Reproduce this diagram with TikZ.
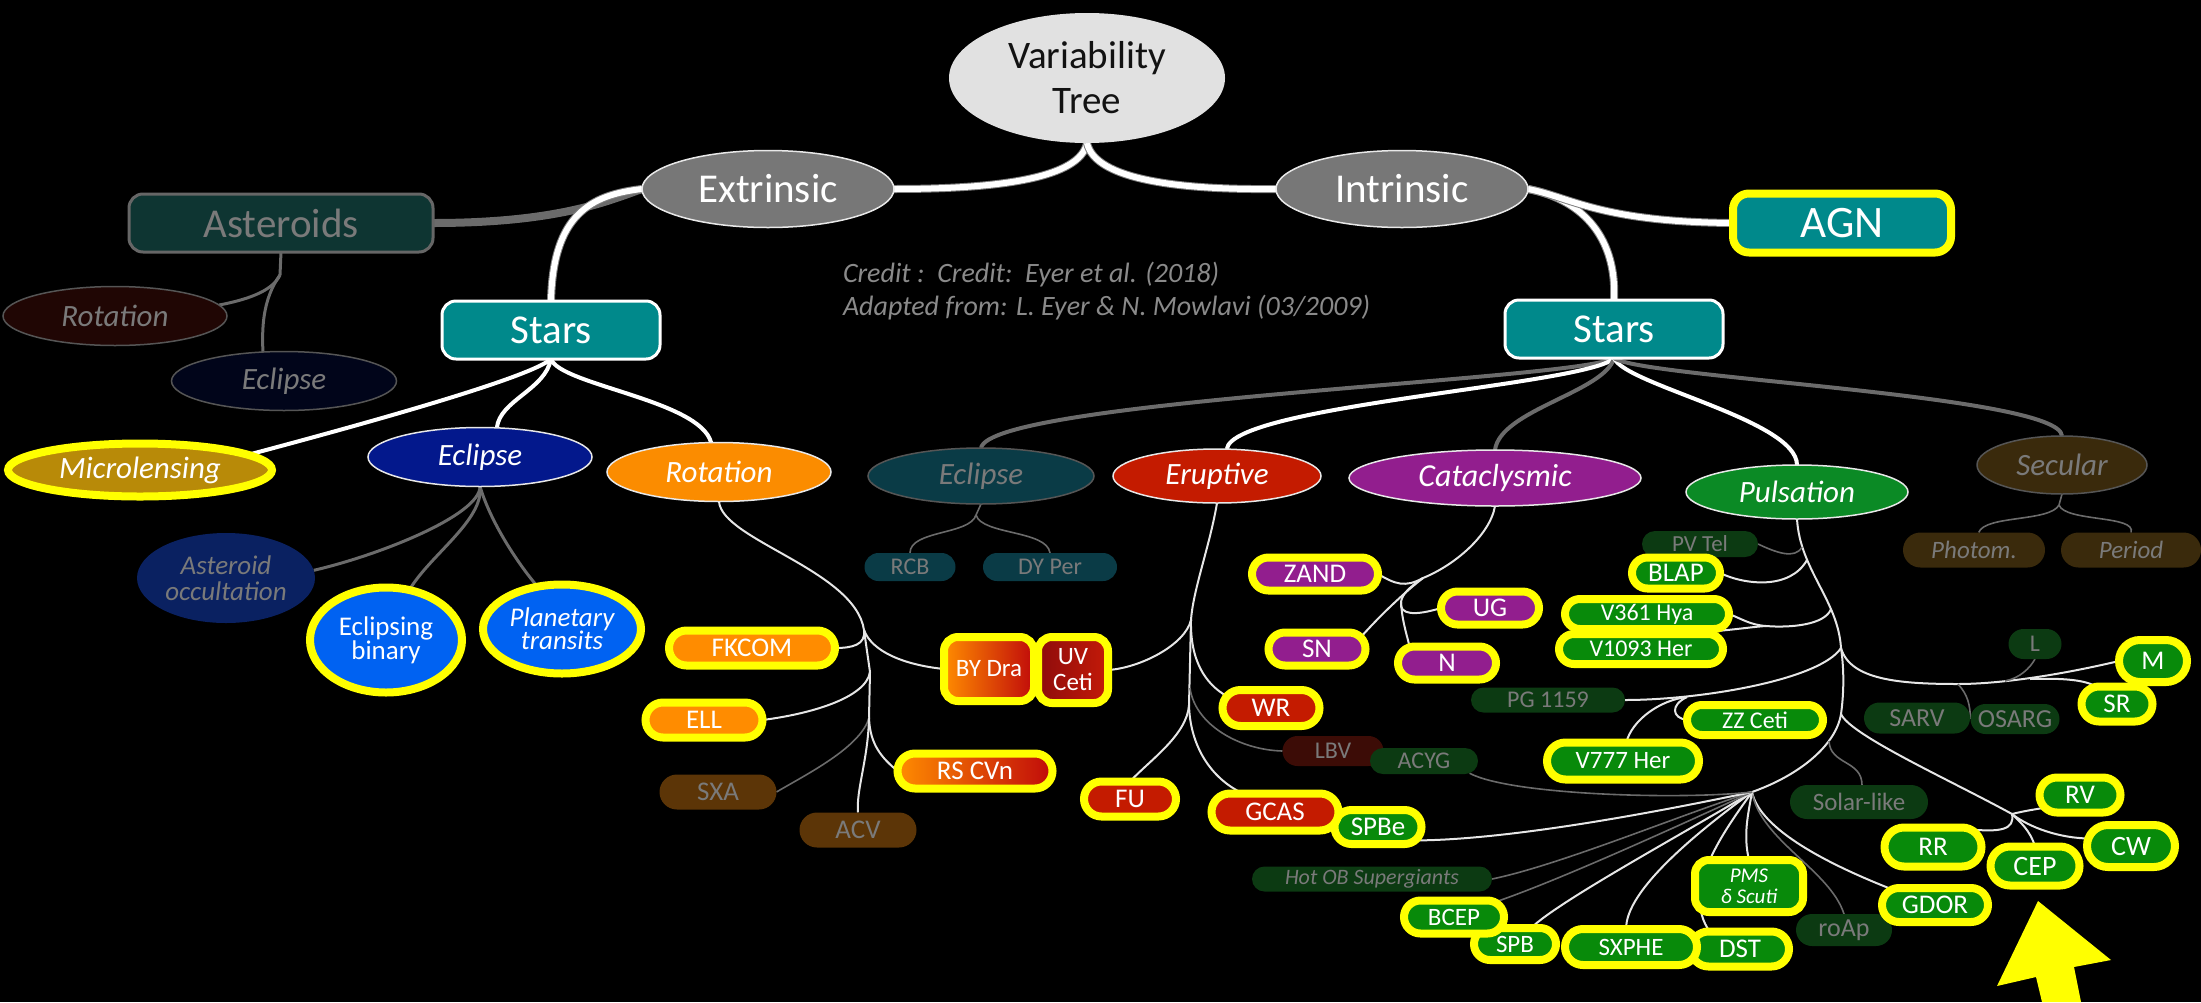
\documentclass[tikz,border=0pt]{standalone}
\usepackage{fontspec}
\setmainfont{Carlito}
\usetikzlibrary{shapes.geometric,shapes.misc}
\pgfdeclarelayer{back}
\pgfdeclarelayer{edges}
\pgfsetlayers{back,edges,main}
\definecolor{rootc}{HTML}{E1E1E1}
\definecolor{extc}{HTML}{777777}
\definecolor{edgew}{HTML}{E8E8E8}
\definecolor{astc}{HTML}{0E3532}
\definecolor{astbd}{HTML}{666666}
\definecolor{bdg}{HTML}{555555}
\definecolor{dimt}{HTML}{7A7A7A}
\definecolor{rotac}{HTML}{200604}
\definecolor{eclac}{HTML}{01051A}
\definecolor{tealc}{HTML}{00898B}
\definecolor{yel}{HTML}{FFFF00}
\definecolor{microc}{HTML}{B88A08}
\definecolor{eclbc}{HTML}{03188C}
\definecolor{rotc}{HTML}{FB8C00}
\definecolor{eclic}{HTML}{0A3B46}
\definecolor{eruc}{HTML}{C41B00}
\definecolor{catc}{HTML}{921E8E}
\definecolor{pulc}{HTML}{0B8A25}
\definecolor{secc}{HTML}{3A2A0C}
\definecolor{occc}{HTML}{0A2161}
\definecolor{ebinc}{HTML}{0062F2}
\definecolor{orc}{HTML}{FF8C00}
\definecolor{rsred}{HTML}{C00A0A}
\definecolor{uvl}{HTML}{8E0C0C}
\definecolor{uvr}{HTML}{C41A08}
\definecolor{brownc}{HTML}{5C3507}
\definecolor{redc}{HTML}{C41B00}
\definecolor{dimred}{HTML}{3C0C06}
\definecolor{dimgreen}{HTML}{0C3A12}
\definecolor{greenc}{HTML}{088A0A}
\definecolor{purc}{HTML}{921E8E}
\definecolor{lineg}{HTML}{6B6B6B}
\definecolor{linew}{HTML}{E6E6E6}
\definecolor{credc}{HTML}{8A8A8A}
\tikzset{
  nb/.style={inner sep=0pt, outer sep=0pt, align=center},
  ell/.style={nb, ellipse},
  pill/.style={nb, rounded rectangle},
  rbox/.style={nb, rectangle, rounded corners=14pt},
  hl/.style={draw=yel, line width=8pt},
  wbd/.style={draw=edgew, line width=1.5pt},
  gbd/.style={draw=bdg, line width=1.5pt},
  fs/.style 2 args={font=\fontsize{#1}{#2}\selectfont},
  fsi/.style 2 args={font=\fontsize{#1}{#2}\selectfont\itshape},
  lab/.style={text=white, fs={27}{29}},
  labm/.style={text=white, fs={24}{26}},
  dlab/.style={text=dimt, fs={24}{26}},
  lnbig/.style={draw=white, line width=6pt, preaction={draw=gray, line width=8pt}},
  lnbigg/.style={draw=lineg, line width=8pt},
  lnmid/.style={draw=white, line width=4pt},
  lnmidg/.style={draw=lineg, line width=4pt},
  lng/.style={draw=lineg, line width=3pt},
  lnth/.style={draw=linew, line width=2pt},
  lnthg/.style={draw=lineg, line width=1.6pt},
}
\begin{document}
\begin{tikzpicture}[x=1pt,y=-1pt]
\useasboundingbox (0,0) rectangle (2201,1002);
\begin{pgfonlayer}{back}
\fill[black] (0,0) rectangle (2201,1002);
\end{pgfonlayer}

% ---------- top levels
\node[ell, fill=rootc, minimum width=276pt, minimum height=130pt, text=black!93, fs={39}{45}] (root) at (1087,78) {Variability\\Tree};
\node[ell, fill=extc, wbd, minimum width=252pt, minimum height=77pt, text=white, fs={41}{44}] (ext) at (768,189) {Extrinsic};
\node[ell, fill=extc, wbd, minimum width=252pt, minimum height=77pt, text=white, fs={41}{44}] (int) at (1402,189) {Intrinsic};
\node[rbox, fill=astc, draw=astbd, line width=3pt, minimum width=304pt, minimum height=58pt, text=dimt, fs={41}{44}] (ast) at (281,223) {Asteroids};
\node[rbox, fill=tealc, draw=white, line width=3pt, minimum width=218pt, minimum height=58pt, text=white, fs={41}{44}] (stl) at (551,330) {Stars};
\node[rbox, fill=tealc, draw=white, line width=3pt, minimum width=218pt, minimum height=58pt, text=white, fs={41}{44}] (str) at (1614,329) {Stars};
\node[rbox, fill=tealc, hl, rounded corners=16pt, minimum width=218pt, minimum height=59pt, text=white, fs={45}{48}] (agn) at (1842,223) {AGN};

% ---------- asteroids
\node[ell, fill=rotac, gbd, minimum width=224pt, minimum height=59pt, text=dimt, fsi={31}{32}] (rota) at (115,316) {Rotation};
\node[ell, fill=eclac, gbd, minimum width=225pt, minimum height=59pt, text=dimt, fsi={31}{32}] (ecla) at (284,381) {Eclipse};

% ---------- extrinsic stars
\node[ell, fill=microc, hl, minimum width=264pt, minimum height=53pt, text=white, fsi={31}{32}] (micro) at (140,470) {Microlensing};
\node[ell, fill=eclbc, wbd, minimum width=224pt, minimum height=59pt, text=white, fsi={31}{32}] (eclb) at (480,457) {Eclipse};
\node[ell, fill=rotc, wbd, minimum width=224pt, minimum height=59pt, text=white, fsi={31}{32}] (rot) at (719,472) {Rotation};
\node[ell, fill=occc, minimum width=178pt, minimum height=90pt, text=dimt, fsi={27}{26}] (occ) at (226,578) {Asteroid\\occultation};
\node[ell, fill=ebinc, hl, minimum width=152pt, minimum height=105pt, text=white, fs={27}{23}] (ebin) at (386,640) {Eclipsing\\binary};
\node[ell, fill=ebinc, hl, minimum width=158pt, minimum height=89pt, text=white, fsi={27}{23}] (ptr) at (562,629) {Planetary\\transits};

\node[pill, fill=orc, hl, minimum width=166pt, minimum height=35pt, lab] (fkcom) at (752,648) {FKCOM};
\node[pill, fill=orc, hl, minimum width=117pt, minimum height=35pt, lab] (nell) at (704,720) {ELL};
\node[pill, fill=brownc, minimum width=117pt, minimum height=35pt, dlab, fs={27}{29}] (sxa) at (718,792) {SXA};
\node[pill, fill=brownc, minimum width=117pt, minimum height=35pt, dlab, fs={27}{29}] (acv) at (858,830) {ACV};
\node[pill, left color=orc, right color=rsred, hl, minimum width=155pt, minimum height=35pt, lab] (rscvn) at (975,771) {RS CVn};
\node[rbox, left color=uvl, right color=uvr, hl, minimum width=70pt, minimum height=66pt, text=white, fs={25}{26}] (uvceti) at (1073,670) {UV\\Ceti};
\node[rbox, left color=orc, right color=rsred, hl, minimum width=90pt, minimum height=64pt, text=white, fs={25}{26}] (bydra) at (989,669) {BY Dra};

% ---------- intrinsic stars
\node[ell, fill=eclic, gbd, minimum width=226pt, minimum height=56pt, text=dimt, fsi={31}{32}] (ecli) at (981,476) {Eclipse};
\node[pill, fill=eclic, minimum width=91pt, minimum height=28pt, dlab] (rcb) at (910,567) {RCB};
\node[pill, fill=eclic, minimum width=134pt, minimum height=28pt, dlab] (dyper) at (1050,567) {DY Per};

\node[ell, fill=eruc, wbd, minimum width=208pt, minimum height=54pt, text=white, fsi={31}{32}] (eru) at (1217,476) {Eruptive};
\node[pill, fill=redc, hl, minimum width=97pt, minimum height=36pt, lab] (wr) at (1271,708) {WR};
\node[pill, fill=dimred, minimum width=101pt, minimum height=30pt, dlab] (lbv) at (1333,751) {LBV};
\node[pill, fill=dimgreen, minimum width=108pt, minimum height=26pt, dlab] (acyg) at (1424,761) {ACYG};
\node[pill, fill=redc, hl, minimum width=92pt, minimum height=35pt, lab] (fu) at (1130,799) {FU};
\node[pill, fill=greenc, hl, minimum width=87pt, minimum height=34pt, lab] (spbe) at (1378,827) {SPBe};
\node[pill, fill=redc, hl, minimum width=127pt, minimum height=37pt, lab] (gcas) at (1275,812) {GCAS};

\node[ell, fill=catc, wbd, minimum width=292pt, minimum height=56pt, text=white, fsi={32}{33}] (cat) at (1495,478) {Cataclysmic};
\node[pill, fill=purc, hl, minimum width=126pt, minimum height=33pt, lab] (zand) at (1315,574) {ZAND};
\node[pill, fill=purc, hl, minimum width=97pt, minimum height=33pt, lab] (sn) at (1317,649) {SN};
\node[pill, fill=purc, hl, minimum width=98pt, minimum height=33pt, lab] (ug) at (1490,608) {UG};
\node[pill, fill=purc, hl, minimum width=98pt, minimum height=33pt, lab] (nn) at (1447,663) {N};

\node[ell, fill=pulc, wbd, minimum width=222pt, minimum height=54pt, text=white, fsi={31}{32}] (pul) at (1797,492) {Pulsation};
\node[pill, fill=dimgreen, minimum width=116pt, minimum height=26pt, dlab, fs={23}{25}] (pvtel) at (1700,544) {PV Tel};
\node[pill, fill=greenc, hl, minimum width=88pt, minimum height=31pt, lab] (blap) at (1676,573) {BLAP};
\node[pill, fill=greenc, hl, minimum width=164pt, minimum height=30pt, labm] (v361) at (1647,614) {V361 Hya};
\node[pill, fill=greenc, hl, minimum width=164pt, minimum height=30pt, labm] (v1093) at (1641,649) {V1093 Her};
\node[pill, fill=dimgreen, minimum width=154pt, minimum height=25pt, dlab] (pg) at (1548,700) {PG 1159};
\node[pill, fill=greenc, hl, minimum width=136pt, minimum height=30pt, labm] (zzceti) at (1755,720) {ZZ Ceti};
\node[pill, fill=greenc, hl, minimum width=152pt, minimum height=37pt, labm, fs={25}{27}] (v777) at (1623,761) {V777 Her};
\node[pill, fill=dimgreen, minimum width=53pt, minimum height=30pt, dlab] (ll) at (2035,644) {L};
\node[pill, fill=greenc, hl, minimum width=68pt, minimum height=42pt, lab] (mm) at (2153,661) {M};
\node[pill, fill=greenc, hl, minimum width=71pt, minimum height=35pt, lab] (sr) at (2117,704) {SR};
\node[pill, fill=dimgreen, minimum width=106pt, minimum height=31pt, dlab, fs={26}{28}] (sarv) at (1917,718) {SARV};
\node[pill, fill=dimgreen, minimum width=89pt, minimum height=30pt, dlab, fs={26}{28}] (osarg) at (2015,719) {OSARG};
\node[pill, fill=dimgreen, minimum width=138pt, minimum height=34pt, dlab, fs={25}{27}] (solar) at (1859,802) {Solar-like};
\node[pill, fill=greenc, hl, minimum width=81pt, minimum height=35pt, lab] (rv) at (2080,795) {RV};
\node[pill, fill=greenc, hl, minimum width=97pt, minimum height=39pt, lab] (rr) at (1933,847) {RR};
\node[pill, fill=greenc, hl, minimum width=89pt, minimum height=39pt, lab, fs={28}{30}] (cep) at (2035,866) {CEP};
\node[pill, fill=greenc, hl, minimum width=88pt, minimum height=42pt, lab, fs={28}{30}] (cw) at (2131,846) {CW};
\node[pill, fill=dimgreen, minimum width=96pt, minimum height=32pt, dlab, fs={26}{28}] (roap) at (1844,930) {roAp};
\node[pill, fill=greenc, hl, minimum width=106pt, minimum height=34pt, lab] (gdor) at (1935,905) {GDOR};
\node[rbox, fill=greenc, hl, minimum width=108pt, minimum height=52pt, text=white, fsi={21}{21}] (pms) at (1749,886) {PMS\\δ Scuti};
\node[pill, fill=greenc, hl, minimum width=98pt, minimum height=35pt, lab] (dst) at (1740,949) {DST};
\node[pill, fill=dimgreen, minimum width=240pt, minimum height=25pt, text=dimt, fsi={22}{24}] (hotob) at (1372,879) {Hot OB Supergiants};
\node[pill, fill=greenc, hl, minimum width=82pt, minimum height=32pt, lab, fs={25}{27}] (spb) at (1515,944) {SPB};
\node[pill, fill=greenc, hl, minimum width=100pt, minimum height=33pt, lab, fs={25}{27}] (bcep) at (1454,917) {BCEP};
\node[pill, fill=greenc, hl, minimum width=132pt, minimum height=36pt, lab, fs={25}{27}] (sxphe) at (1631,947) {SXPHE};

\node[ell, fill=secc, gbd, minimum width=170pt, minimum height=58pt, text=dimt, fsi={31}{32}] (sec) at (2062,465) {Secular};
\node[pill, fill=secc, minimum width=142pt, minimum height=35pt, text=dimt, fsi={25}{27}] (photom) at (1974,550) {Photom.};
\node[pill, fill=secc, minimum width=140pt, minimum height=35pt, text=dimt, fsi={25}{27}] (period) at (2131,550) {Period};

% ---------- credit
\node[nb, anchor=base west, text=credc, fsi={28}{30}] (cred1) at (843,282) {Credit :\ \ Credit:\ \ Eyer et al. (2018)};
\node[nb, anchor=base west, text=credc, fsi={28}{30}] (cred2) at (843,315) {Adapted from: L. Eyer \& N. Mowlavi (03/2009)};

% ---------- arrow
\fill[yel] (2038,901) -- (2111,960) -- (2074,967) -- (2081,1002) -- (2042,1002) -- (2036,977) -- (1997,986) -- cycle;

% ---------- branch points
\coordinate (astb) at (280,275);
\coordinate (rt1) at (864,630);
\coordinate (rt2) at (870,672);
\coordinate (rt3) at (869,718);
\coordinate (et1) at (1191,620);
\coordinate (et2) at (1190,688);
\coordinate (et3) at (1189,705);
\coordinate (ct1) at (1423,578);
\coordinate (ct2) at (1401,602);
\coordinate (ecj) at (976,515);
\coordinate (secj) at (2059,505);
\coordinate (pt1) at (1802,547);
\coordinate (pt2) at (1807,560);
\coordinate (pt3) at (1831,609);
\coordinate (pt4) at (1841,648);
\coordinate (pt6) at (1841,714);
\coordinate (hub) at (1752,792);
\coordinate (slj) at (1829,741);
\coordinate (vj) at (1766,626);
\coordinate (pgj) at (1687,697);
\coordinate (lp1) at (1958,684);
\coordinate (lp2) at (2030,679);
\coordinate (lj) at (2005,681);
\coordinate (cb) at (2012,814);

\begin{pgfonlayer}{edges}
% top
\draw[lnbig] (root.south) .. controls (1080,178) and (1000,189) .. (ext.east);
\draw[lnbig] (root.south) .. controls (1095,180) and (1180,190) .. (int.west);
\draw[lnbigg] (ext.west) .. controls (610,200) and (560,223) .. (ast.east);
\draw[lnbig] (ext.west) .. controls (590,195) and (553,215) .. (stl.north);
\draw[lnbig] (int.east) .. controls (1585,200) and (1617,240) .. (str.north);
\draw[lnbig] (int.east) .. controls (1570,197) and (1600,222) .. (agn.west);
% stars left
\draw[lnmid] (stl.south) .. controls (530,378) and (360,425) .. (micro.8);
\draw[lnmid] (stl.south) .. controls (545,390) and (500,400) .. (eclb.60);
\draw[lnmid] (stl.south) .. controls (560,385) and (700,400) .. (rot.105);
% stars right
\draw[lnmidg] (str.south) .. controls (1580,380) and (990,400) .. (ecli.north);
\draw[lnmid] (str.south) .. controls (1590,385) and (1232,405) .. (eru.70);
\draw[lnmidg] (str.south) .. controls (1605,392) and (1500,410) .. (cat.north);
\draw[lnmid] (str.south) .. controls (1625,385) and (1797,420) .. (pul.north);
\draw[lnmidg] (str.south) .. controls (1640,378) and (2060,395) .. (sec.north);
% asteroids
\draw[lng] (ast.south) -- (astb);
\draw[lng] (astb) .. controls (272,292) and (245,300) .. (rota.6);
\draw[lng] (astb) .. controls (262,300) and (262,330) .. (ecla.126);
% eclipse (extrinsic)
\draw[lng] (eclb.south) .. controls (480,515) and (380,555) .. (occ.5);
\draw[lng] (eclb.south) .. controls (484,520) and (430,555) .. (ebin.65);
\draw[lng] (eclb.south) .. controls (490,520) and (515,560) .. (ptr.120);
% rotation
\draw[lnth] (rot.south) .. controls (722,540) and (855,570) .. (rt1);
\draw[lnth] (rt1) .. controls (866,645) and (852,648) .. (fkcom.east);
\draw[lnth] (rt1) .. controls (872,652) and (905,665) .. (bydra.west);
\draw[lnth] (rt1) -- (rt2) -- (rt3);
\draw[lnth] (rt2) .. controls (866,698) and (810,714) .. (nell.east);
\draw[lnthg] (rt3) .. controls (860,748) and (805,775) .. (sxa.east);
\draw[lnth] (rt3) .. controls (870,745) and (882,758) .. (rscvn.west);
\draw[lnth] (rt3) .. controls (868,760) and (856,790) .. (acv.north);
% eclipse (intrinsic)
\draw[lnthg] (ecli.south) -- (ecj);
\draw[lnthg] (ecj) .. controls (970,535) and (910,530) .. (rcb.north);
\draw[lnthg] (ecj) .. controls (982,535) and (1047,530) .. (dyper.north);
% eruptive
\draw[lnth] (eru.south) .. controls (1210,545) and (1193,590) .. (et1);
\draw[lnth] (et1) .. controls (1185,645) and (1140,668) .. (uvceti.east);
\draw[lnth] (et1) .. controls (1190,660) and (1205,684) .. (wr.165);
\draw[lnth] (et1) -- (et3);
\draw[lnthg] (et2) .. controls (1195,725) and (1240,750) .. (lbv.west);
\draw[lnth] (et3) .. controls (1187,735) and (1150,760) .. (fu.north);
\draw[lnth] (et3) .. controls (1190,745) and (1210,778) .. (gcas.150);
% cataclysmic
\draw[lnth] (cat.south) .. controls (1490,535) and (1455,565) .. (ct1);
\draw[lnth] (ct1) .. controls (1405,588) and (1395,584) .. (zand.east);
\draw[lnth] (ct1) .. controls (1410,588) and (1385,610) .. (sn.15);
\draw[lnth] (ct1) .. controls (1408,588) and (1402,595) .. (ct2);
\draw[lnth] (ct2) .. controls (1399,615) and (1415,616) .. (ug.west);
\draw[lnth] (ct2) .. controls (1402,620) and (1406,632) .. (nn.157);
% pulsation trunk
\draw[lnth] (pul.south) .. controls (1800,570) and (1838,600) .. (pt4) .. controls (1845,675) and (1843,700) .. (pt6) .. controls (1836,745) and (1800,775) .. (hub);
\draw[lnthg] (pt1) .. controls (1795,560) and (1775,552) .. (pvtel.east);
\draw[lnth] (pt2) .. controls (1790,590) and (1745,585) .. (blap.east);
\draw[lnth] (pt3) .. controls (1825,625) and (1790,628) .. (vj);
\draw[lnth] (vj) .. controls (1750,625) and (1740,618) .. (v361.east);
\draw[lnth] (vj) .. controls (1750,627) and (1735,630) .. (v1093.20);
\draw[lnth] (pg.east) .. controls (1700,700) and (1820,680) .. (pt4);
\draw[lnth] (zzceti.west) .. controls (1672,718) and (1670,705) .. (pgj);
\draw[lnth] (v777.80) .. controls (1632,720) and (1660,700) .. (pgj);
\draw[lnth] (pt4) .. controls (1850,680) and (1900,684) .. (lp1) .. controls (2000,684) and (2060,675) .. (mm.west);
\draw[lnth] (lp2) .. controls (2065,678) and (2085,680) .. (sr.140);
\draw[lnthg] (ll.south) .. controls (2030,668) and (2020,678) .. (lj);
\draw[lnthg] (lp1) .. controls (1968,695) and (1970,705) .. (osarg.west);
\draw[lnthg] (slj) .. controls (1830,765) and (1862,760) .. (solar.80);
\draw[lnth] (pt6) .. controls (1850,735) and (1950,780) .. (cb);
\draw[lnth] (cb) .. controls (2020,812) and (2030,810) .. (rv.200);
\draw[lnth] (cb) .. controls (2015,830) and (2000,832) .. (rr.25);
\draw[lnth] (cb) .. controls (2020,822) and (2030,830) .. (cep.north);
\draw[lnth] (cb) .. controls (2030,828) and (2060,838) .. (cw.170);
% hub fan
\draw[lnth] (hub) .. controls (1760,830) and (1830,865) .. (gdor.160);
\draw[lnthg] (hub) .. controls (1760,840) and (1830,870) .. (roap.north);
\draw[lnth] (hub) .. controls (1748,815) and (1743,835) .. (pms.north);
\draw[lnth] (hub) .. controls (1725,830) and (1680,890) .. (dst.150);
\draw[lnth] (hub) .. controls (1700,830) and (1625,890) .. (sxphe.105);
\draw[lnth] (hub) .. controls (1690,830) and (1560,900) .. (spb.45);
\draw[lnthg] (hub) .. controls (1680,825) and (1560,880) .. (bcep.20);
\draw[lnthg] (hub) .. controls (1680,815) and (1560,865) .. (hotob.east);
\draw[lnth] (hub) .. controls (1690,805) and (1520,840) .. (spbe.340);
\draw[lnthg] (hub) .. controls (1680,800) and (1510,795) .. (acyg.345);
% secular
\draw[lnthg] (sec.south) -- (secj);
\draw[lnthg] (secj) .. controls (2050,522) and (1985,515) .. (photom.75);
\draw[lnthg] (secj) .. controls (2065,522) and (2137,515) .. (period.north);
\end{pgfonlayer}
\end{tikzpicture}
\end{document}
